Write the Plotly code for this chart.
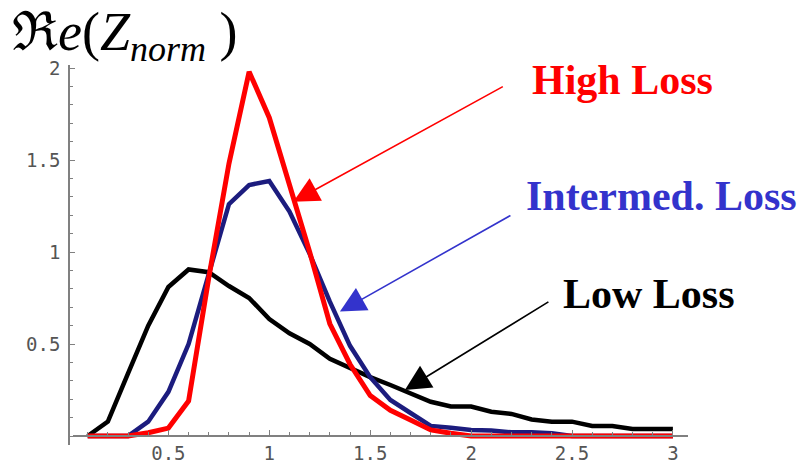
import plotly.graph_objects as go

# ---- data ----
x_vals = [0.1, 0.2, 0.3, 0.4, 0.5, 0.6, 0.7, 0.8, 0.9, 1.0,
          1.1, 1.2, 1.3, 1.4, 1.5, 1.6, 1.7, 1.8, 1.9, 2.0,
          2.1, 2.2, 2.3, 2.4, 2.5, 2.6, 2.7, 2.8, 2.9, 3.0]

low_loss = [0.0, 0.078, 0.34, 0.60, 0.81, 0.905, 0.89, 0.815, 0.75, 0.636,
            0.558, 0.50, 0.42, 0.37, 0.32, 0.277, 0.233, 0.186, 0.16, 0.16,
            0.132, 0.12, 0.09, 0.078, 0.078, 0.054, 0.054, 0.038, 0.038, 0.038]

intermed_loss = [0.0, 0.0, 0.0, 0.078, 0.24, 0.50, 0.88, 1.26, 1.364, 1.386,
                 1.22, 0.99, 0.73, 0.49, 0.32, 0.196, 0.125, 0.055, 0.045, 0.033,
                 0.03, 0.02, 0.02, 0.015, 0.0, 0.0, 0.0, 0.0, 0.0, 0.0]

high_loss = [0.0, 0.0, 0.0, 0.018, 0.043, 0.19, 0.86, 1.48, 1.98, 1.73,
             1.375, 1.0, 0.61, 0.39, 0.22, 0.14, 0.087, 0.033, 0.015, 0.0,
             0.0, 0.0, 0.0, 0.0, 0.0, 0.0, 0.0, 0.0, 0.0, 0.0]

x_tick_vals = [0.5, 1, 1.5, 2, 2.5, 3]
x_tick_text = ["0.5", "1", "1.5", "2", "2.5", "3"]
y_tick_vals = [0.5, 1, 1.5, 2]
y_tick_text = ["0.5", "1", "1.5", "2"]

W, H = 801, 467

fig = go.Figure()
fig.add_trace(go.Scatter(x=x_vals, y=low_loss, mode="lines",
                         line=dict(color="#000000", width=4.5), name="Low Loss"))
fig.add_trace(go.Scatter(x=x_vals, y=intermed_loss, mode="lines",
                         line=dict(color="#1c1c7e", width=4.5), name="Intermed. Loss"))
fig.add_trace(go.Scatter(x=x_vals, y=high_loss, mode="lines",
                         line=dict(color="#ff0000", width=5), name="High Loss"))

tick_font = dict(family="DejaVu Sans Mono", size=19, color="#555555")
axis_col = "#808080"

fig.update_layout(
    width=W, height=H,
    margin=dict(l=0, r=0, t=0, b=0),
    paper_bgcolor="white", plot_bgcolor="white",
    showlegend=False,
    xaxis=dict(
        domain=[73 / W, 688 / W],
        range=[(73 - 67.5) / 201.8, (688 - 67.5) / 201.8],
        anchor="free", position=(H - 436) / H,
        showline=True, linecolor=axis_col, linewidth=1.5,
        showgrid=False, zeroline=False,
        ticks="inside", ticklen=5, tickwidth=1.2, tickcolor=axis_col,
        tickmode="array", tickvals=x_tick_vals, ticktext=x_tick_text,
        tickfont=tick_font, ticklabelstandoff=0,
        minor=dict(dtick=0.1, tick0=0, ticks="inside", ticklen=3.5,
                   tickwidth=1.2, tickcolor=axis_col, showgrid=False),
        automargin=False,
    ),
    yaxis=dict(
        domain=[(H - 445) / H, (H - 65) / H],
        range=[(436 - 445) / 184, (436 - 65) / 184],
        anchor="free", position=69 / W,
        showline=True, linecolor=axis_col, linewidth=1.5,
        showgrid=False, zeroline=False,
        ticks="inside", ticklen=5, tickwidth=1.2, tickcolor=axis_col,
        tickmode="array", tickvals=y_tick_vals, ticktext=y_tick_text,
        tickfont=tick_font, ticklabelstandoff=4,
        minor=dict(dtick=0.1, tick0=0, ticks="inside", ticklen=3.5,
                   tickwidth=1.2, tickcolor=axis_col, showgrid=False),
        automargin=False,
    ),
)

# Title label
fig.add_annotation(
    text="ℜ<i>e</i>(<i>Z</i><sub><i><span style='font-size:36px'>norm</span></i></sub> )",
    xref="paper", yref="paper", x=10 / W, y=1.0,
    xanchor="left", yanchor="top", showarrow=False,
    font=dict(family="Liberation Serif", size=54, color="black"),
)

label_font = "Liberation Serif"
# Series labels
fig.add_annotation(text="<b>High Loss</b>", xref="paper", yref="paper",
                   x=622 / W, y=(H - 80) / H, xanchor="center", yanchor="middle",
                   showarrow=False, font=dict(family=label_font, size=42, color="#ff0000"))
fig.add_annotation(text="<b>Intermed. Loss</b>", xref="paper", yref="paper",
                   x=661 / W, y=(H - 196) / H, xanchor="center", yanchor="middle",
                   showarrow=False, font=dict(family=label_font, size=42, color="#3333cc"))
fig.add_annotation(text="<b>Low Loss</b>", xref="paper", yref="paper",
                   x=649 / W, y=(H - 294) / H, xanchor="center", yanchor="middle",
                   showarrow=False, font=dict(family=label_font, size=42, color="#000000"))

# Arrows
for tip_x, tip_y, ax, ay, col in [
    (1.119, 1.273, 211, -116, "#ff0000"),
    (1.350, 0.676, 172, -97, "#3333cc"),
    (1.672, 0.250, 145, -89, "#000000"),
]:
    fig.add_annotation(x=tip_x, y=tip_y, xref="x", yref="y", ax=ax, ay=ay,
                       axref="pixel", ayref="pixel", text="", showarrow=True,
                       arrowhead=2, arrowsize=3.2, arrowwidth=1.6, arrowcolor=col,
                       standoff=0)

fig.write_html("out.html")
